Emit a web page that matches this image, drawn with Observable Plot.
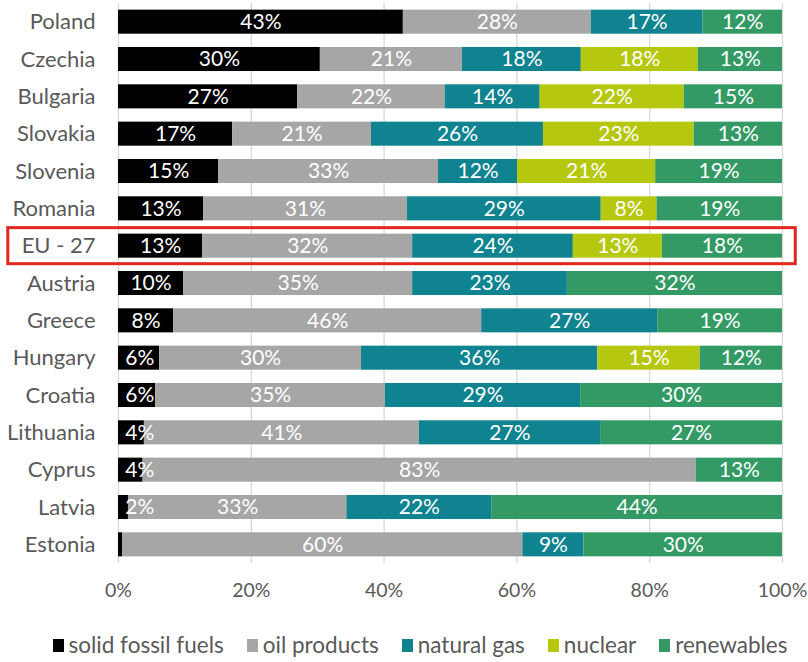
<!DOCTYPE html>
<html><head><meta charset="utf-8">
<script src="https://cdn.jsdelivr.net/npm/d3@7"></script>
<script src="https://cdn.jsdelivr.net/npm/@observablehq/plot@0.6"></script>
<style>
body{margin:0;background:#fff;font-family:Lato,"DejaVu Sans Condensed",sans-serif;}
#chart{width:808px;}
#legend{display:flex;justify-content:center;align-items:center;margin-top:18px;padding-left:32px;font-size:22.5px;color:#595959;line-height:24px;}
#legend .item{display:flex;align-items:center;margin-right:23px;}
#legend .item:last-child{margin-right:0;}
#legend .sw{width:11px;height:13px;margin-right:5px;}
</style></head><body><div id="chart"></div><script>
const countries = ["Poland","Czechia","Bulgaria","Slovakia","Slovenia","Romania","EU - 27","Austria","Greece","Hungary","Croatia","Lithuania","Cyprus","Latvia","Estonia"];
const fuels = ["solid fossil fuels","oil products","natural gas","nuclear","renewables"];
const colors = ["#000000","#A6A6A6","#0F838F","#B5C80F","#339A66"];
const solid = [42.9,30.4,27.0,17.2,15.1,12.8,12.7,9.8,8.3,6.2,5.6,3.9,3.7,1.5,0.6];
const oil = [28.3,21.4,22.2,20.9,33.1,30.7,31.6,34.5,46.4,30.4,34.6,41.4,83.3,32.9,60.3];
const gas = [16.8,17.9,14.3,25.9,11.9,29.2,24.2,23.3,26.5,35.6,29.4,27.3,0,21.8,9.2];
const nuclear = [0,17.6,21.7,22.7,20.8,8.4,13.4,0,0,15.4,0,0,0,0,0];
const renewables = [12.0,12.7,14.8,13.3,19.1,18.9,18.1,32.4,18.8,12.4,30.4,27.4,13.0,43.8,29.9];
const xTicks = [0,20,40,60,80,100];
const highlight = "EU - 27";
const highlightSpan = [-16.6, 102];
const labelFloor = 3.2;

const series = [solid, oil, gas, nuclear, renewables];
const rows = [];
countries.forEach((c, i) => {
  let acc = 0;
  fuels.forEach((f, j) => {
    const v = series[j][i];
    const x1 = acc, x2 = acc + v;
    acc = x2;
    if (v > 0) rows.push({country: c, fuel: f, value: v, x1, x2, lx: Math.max((x1 + x2) / 2, j === 0 ? labelFloor : 0)});
  });
});

const font = 'Lato,"DejaVu Sans Condensed",sans-serif';
const plot = Plot.plot({
  width: 808,
  height: 615,
  marginLeft: 118,
  marginRight: 26,
  marginTop: 3,
  marginBottom: 52,
  style: {fontFamily: font, fontSize: "22px", color: "#595959", background: "#fff", overflow: "visible"},
  x: {domain: [0, 100]},
  y: {domain: countries, paddingInner: 0.356, paddingOuter: 0.178, round: false},
  color: {domain: fuels, range: colors},
  marks: [
    Plot.gridX(xTicks, {stroke: "#D9D9D9", strokeOpacity: 1, strokeWidth: 1.3}),
    Plot.barX(rows, {x1: "x1", x2: "x2", y: "country", fill: "fuel"}),
    Plot.text(rows.filter(d => d.value >= 1), {x: "lx", y: "country", text: d => Math.round(d.value) + "%", fill: "white", fontSize: 21, fontFamily: font}),
    Plot.barX([highlight], {y: d => d, x1: () => highlightSpan[0], x2: () => highlightSpan[1], fill: "none", stroke: "#E0261D", strokeWidth: 3, insetTop: -6, insetBottom: -6}),
    Plot.axisY({tickSize: 0, tickPadding: 23, label: null}),
    Plot.axisX({ticks: xTicks, tickFormat: d => d + "%", tickSize: 0, tickPadding: 20, label: null, fontSize: 19.5})
  ]
});
document.getElementById("chart").appendChild(plot);

const legend = document.createElement("div");
legend.id = "legend";
fuels.forEach((f, j) => {
  const item = document.createElement("div");
  item.className = "item";
  const sw = document.createElement("span");
  sw.className = "sw";
  sw.style.background = colors[j];
  const t = document.createElement("span");
  t.textContent = f;
  item.appendChild(sw); item.appendChild(t);
  legend.appendChild(item);
});
document.getElementById("chart").appendChild(legend);
</script></body></html>
